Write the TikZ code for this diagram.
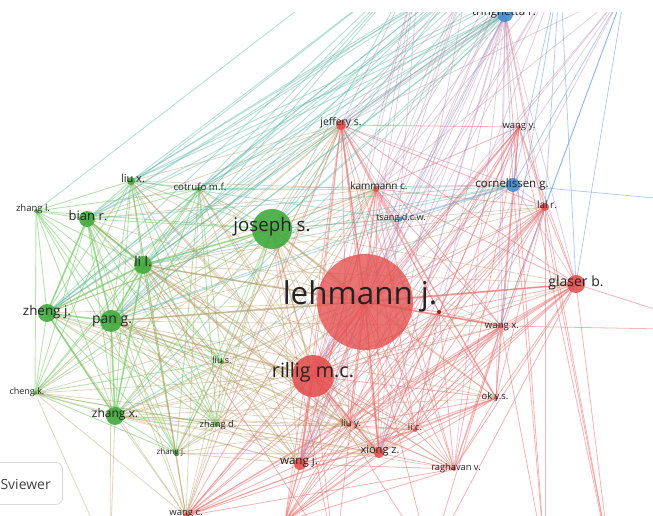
\documentclass[tikz,border=0pt]{standalone}
\usepackage{fontspec}
\setmainfont{Open Sans}
\pgfdeclarelayer{edgelayer}
\pgfsetlayers{edgelayer,main}
\definecolor{gN}{RGB}{66,170,62}
\definecolor{rN}{RGB}{228,78,78}
\definecolor{bN}{RGB}{70,140,210}
\definecolor{dN}{RGB}{150,30,30}
\definecolor{labC}{RGB}{35,35,35}
\definecolor{gE}{RGB}{110,200,95}
\definecolor{rE}{RGB}{235,105,105}
\definecolor{bE}{RGB}{105,155,220}
\definecolor{xE}{RGB}{185,155,100}
\definecolor{tE}{RGB}{95,185,165}
\definecolor{pE}{RGB}{185,125,170}
\tikzset{
  nd/.style={circle, inner sep=0pt, minimum size=#1, draw=none},
  gnd/.style={nd=#1, fill=gN, fill opacity=0.9},
  rnd/.style={nd=#1, fill=rN, fill opacity=0.88},
  bnd/.style={nd=#1, fill=bN, fill opacity=0.9},
  lab/.style={text=labC, inner sep=0pt, text height=0.72em, text depth=0.22em,
              font=\fontsize{#1}{#1}\selectfont},
  ge/.style={draw=gE, line width=0.9pt, draw opacity=0.5},
  re/.style={draw=rE, line width=0.8pt, draw opacity=0.5},
  be/.style={draw=bE, line width=0.8pt, draw opacity=0.5},
  xe/.style={draw=xE, line width=0.8pt, draw opacity=0.42},
  te/.style={draw=tE, line width=0.9pt, draw opacity=0.45},
  pe/.style={draw=pE, line width=0.8pt, draw opacity=0.38},
  thick edge/.style={line width=1.7pt},
}
\begin{document}
\begin{tikzpicture}[x=1pt,y=-1pt]
\useasboundingbox (0,0) rectangle (653,516);
\begin{scope}
\clip (0,13) rectangle (653,516);
% ---------- green cluster ----------
\node[gnd=4pt]  (zl)  at (36,211) {};
\node[gnd=8pt]  (lx)  at (131,181) {};
\node[gnd=5pt]  (cm)  at (199,189) {};
\node[gnd=16pt] (br)  at (87,219) {};
\node[gnd=40pt] (js)  at (272,229) {};
\node[gnd=18pt] (ll)  at (143,265) {};
\node[gnd=18pt] (zj)  at (47,313) {};
\node[gnd=22pt] (pg)  at (111,321) {};
\node[gnd=4pt]  (ls)  at (222,362) {};
\node[gnd=4pt]  (ck)  at (35,393) {};
\node[gnd=18pt] (zx)  at (115,416) {};
\node[gnd=4pt]  (zd)  at (217,425) {};
\node[gnd=5pt]  (zjj) at (176,453) {};
% ---------- red cluster ----------
\node[rnd=96pt, fill opacity=0.78] (lj) at (365,302) {};
\node[nd=4pt, fill=dN] (dt) at (439,312) {};
\node[rnd=42pt] (rm) at (313,376) {};
\node[rnd=10pt] (je) at (341,125) {};
\node[rnd=6pt]  (kc) at (376,189) {};
\node[rnd=8pt]  (lr) at (545,207) {};
\node[rnd=18pt] (gb) at (576,284) {};
\node[rnd=4pt]  (wx) at (501,326) {};
\node[rnd=4pt]  (oy) at (496,398) {};
\node[rnd=4pt]  (ly) at (349,425) {};
\node[rnd=4pt]  (lc) at (415,430) {};
\node[rnd=10pt] (xz) at (379,453) {};
\node[rnd=12pt] (wj) at (300,464) {};
\node[rnd=4pt]  (rv) at (454,469) {};
\node[rnd=6pt]  (wc) at (186,516) {};
\node[rnd=6pt]  (lb) at (285,521) {};
\node[rnd=4pt]  (wy) at (519,127) {};
% ---------- blue cluster ----------
\node[bnd=16pt] (tr) at (505,14) {};
\node[bnd=14pt] (cg) at (513,185) {};
\node[bnd=5pt]  (ts) at (400,219) {};
% ---------- labels ----------
\node[lab=9.5]  (zlL)  at (33,209)  {zhang l.};
\node[lab=11]   (lxL)  at (133,180) {liu x.};
\node[lab=9.7]  (cmL)  at (200,188) {cotrufo m.f.};
\node[lab=13]   (brL)  at (88,218)  {bian r.};
\node[lab=18.7] (jsL)  at (272,229) {joseph s.};
\node[lab=13.5] (llL)  at (143,264) {li l.};
\node[lab=13.4] (zjL)  at (47,313)  {zheng j.};
\node[lab=14]   (pgL)  at (112,321) {pan g.};
\node[lab=9]    (lsL)  at (222,361) {liu s.};
\node[lab=9]    (ckL)  at (27,392)  {cheng k.};
\node[lab=12]   (zxL)  at (115,415) {zhang x.};
\node[lab=9.3]  (zdL)  at (218,425) {zhang d.};
\node[lab=8]    (zjjL) at (171,452) {zhang j.};
\node[lab=31.4] (ljL)  at (360,302) {lehmann j.};
\node[lab=19.7] (rmL)  at (313,375) {rillig m.c.};
\node[lab=10.4] (jeL)  at (341,123) {jeffery s.};
\node[lab=10]   (kcL)  at (379,187) {kammann c.};
\node[lab=10]   (lrL)  at (547,206) {lal r.};
\node[lab=14]   (gbL)  at (576,284) {glaser b.};
\node[lab=9.6]  (wxL)  at (502,326) {wang x.};
\node[lab=9.3]  (oyL)  at (495,397) {ok y.s.};
\node[lab=9.3]  (lyL)  at (351,424) {liu y.};
\node[lab=9.3]  (lcL)  at (415,428) {li c.};
\node[lab=11]   (xzL)  at (380,451) {xiong z.};
\node[lab=11.6] (wjL)  at (299,462) {wang j.};
\node[lab=9.3]  (rvL)  at (456,468) {raghavan v.};
\node[lab=9.5]  (wcL)  at (186,513) {wang c.};
\node[lab=9.4]  (wyL)  at (519,126) {wang y.};
\node[lab=11.5] (trL)  at (504,13.5) {tringhetta r.};
\node[lab=11.5] (cgL)  at (512,185) {cornelissen g.};
\node[lab=9.1]  (tsL)  at (401,218) {tsang d.c.w.};
% off-frame ends
\coordinate (t1) at (375,-50);
\coordinate (ta) at (470,-30);
\coordinate (tb) at (560,-30);
\coordinate (tc) at (625,-10);
\coordinate (td) at (420,-40);
\coordinate (te) at (525,-60);
\coordinate (ra) at (720,204);
\coordinate (rb) at (720,330);
\coordinate (ba) at (610,560);
\coordinate (bb) at (545,560);
\coordinate (bc) at (335,560);
\coordinate (bd) at (110,560);
\coordinate (be) at (430,560);
\end{scope}
% ---------- edges ----------
\begin{pgfonlayer}{edgelayer}
\begin{scope}
\clip (0,13) rectangle (653,516);
\def\greenlist{zl,lx,cm,br,js,ll,zj,pg,ls,ck,zx,zd,zjj}
\def\redlist{lj,rm,je,kc,lr,gb,wx,oy,ly,lc,xz,wj,rv,wc,lb,wy,dt}
\foreach \a [count=\i] in \greenlist {
  \foreach \b [count=\j] in \greenlist {
    \ifnum\j>\i \draw[ge] (\a.center) -- (\b.center); \fi
  }
}
\foreach \a [count=\i] in \redlist {
  \foreach \b [count=\j] in \redlist {
    \ifnum\j>\i \draw[re] (\a.center) -- (\b.center); \fi
  }
}
\foreach \a in {js,ll,pg,zj,br,lx,zx,cm,zd,ck,ls,zjj} {
  \foreach \b in {lj,rm,je,kc,wj,xz,wc,ly} {
    \draw[xe] (\a.center) -- (\b.center);
  }
}
\foreach \a in {js,ll,pg,zx} {
  \foreach \b in {gb,wx,lc,rv,lr,oy} {
    \draw[xe] (\a.center) -- (\b.center);
  }
}
% strong links
\foreach \a/\b in {pg/ll,pg/zj,pg/zx,ll/zj,ll/br,zx/zj,br/zj,pg/br,js/ll,zx/ll}
  \draw[ge,thick edge] (\a.center) -- (\b.center);
\foreach \a/\b in {lj/rm,lj/gb,lj/wx,lj/xz,rm/wj,lj/je,rm/xz}
  \draw[re,thick edge] (\a.center) -- (\b.center);
\foreach \a/\b in {js/lj,pg/lj,ll/lj,js/rm,pg/rm}
  \draw[xe,thick edge] (\a.center) -- (\b.center);
% blue cluster
\foreach \b in {cg,ts}
  \draw[be] (tr.center) -- (\b.center);
\draw[be,thick edge] (cg.center) -- (ts.center);
\foreach \b in {lj,rm,je,kc,wx,xz,wj,lc,ly,rv,oy,wy,lr,gb}
  \draw[pe] (tr.center) -- (\b.center);
\foreach \b in {lj,rm,kc,wy,je,lr,gb,wx}
  \draw[pe] (cg.center) -- (\b.center);
\foreach \b in {lj,rm,kc,je,wj}
  \draw[pe] (ts.center) -- (\b.center);
\foreach \b in {js,ll,pg,br,lx,cm,zx,zj}
  \draw[te] (tr.center) -- (\b.center);
\foreach \b in {js,ll,pg,br,cm,zx}
  \draw[te] (cg.center) -- (\b.center);
\foreach \b in {js,ll,pg,lx}
  \draw[te] (ts.center) -- (\b.center);
% off-frame links
\draw[te] (zl.center) -- (t1);
\foreach \t in {ta,tb,td,te} {
  \foreach \b in {js,br,lx,ll,pg,cm,zj} \draw[te] (\t) -- (\b.center);
}
\foreach \t in {ta,tb,tc,td,te} {
  \foreach \b in {lj,rm,je,kc,wj,xz} \draw[pe] (\t) -- (\b.center);
}
\foreach \t in {tb,tc} {
  \foreach \b in {gb,lr,wx,cg} \draw[be] (\t) -- (\b.center);
}
\draw[be] (cg.center) -- (ra);
\draw[re] (wx.center) -- (rb);
\draw[re] (gb.center) -- (rb);
\foreach \b in {tr,lr,gb,wy} \draw[re] (\b.center) -- (ba);
\foreach \b in {tr,lr,wx,cg} \draw[re] (\b.center) -- (bb);
\foreach \b in {lj,rm,js,ll} \draw[re] (\b.center) -- (bc);
\foreach \b in {ck,zx,pg} \draw[xe] (\b.center) -- (bd);
\foreach \b in {lj,gb,wx,rm} \draw[re] (\b.center) -- (be);
\end{scope}
\end{pgfonlayer}
% ---------- VOSviewer button ----------
\node[draw=black!15, line width=0.8pt, rounded corners=7pt, fill=white,
      minimum width=80pt, minimum height=42pt, anchor=east] (vos) at (63,483.5) {};
\node[anchor=east, inner sep=0pt, text=black!75, font=\fontsize{14}{14}\selectfont]
      (vost) at (51,484) {VOSviewer};
\end{tikzpicture}
\end{document}
